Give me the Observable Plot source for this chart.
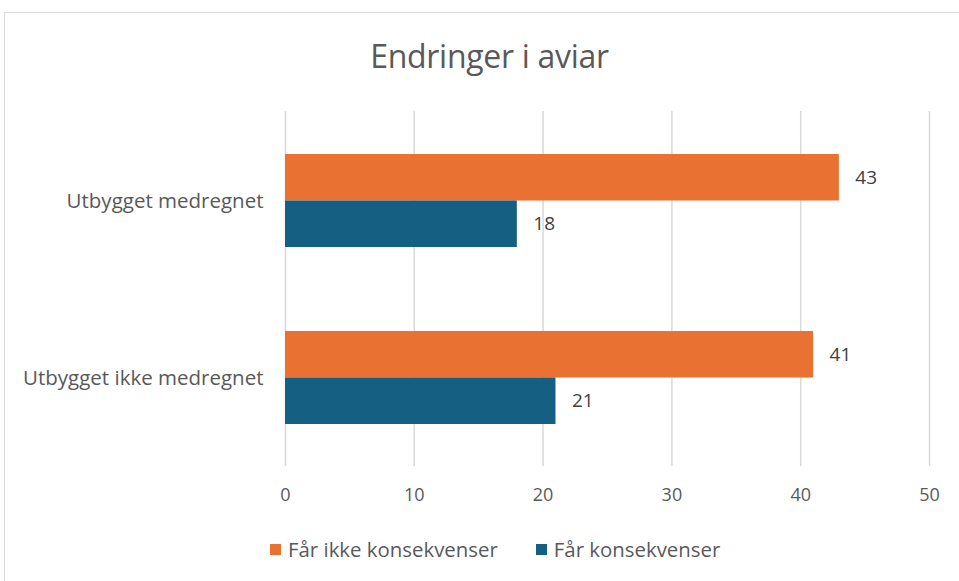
<!DOCTYPE html>
<html><head><meta charset="utf-8">
<script src="https://cdn.jsdelivr.net/npm/d3@7"></script>
<script src="https://cdn.jsdelivr.net/npm/@observablehq/plot@0.6"></script>
<style>
html,body{margin:0;padding:0;background:#fff;overflow:hidden;}
#frame{position:absolute;left:4px;top:12px;width:980px;height:600px;border:1px solid #d9d9d9;box-sizing:border-box;}
#title{position:absolute;left:10px;top:34px;width:959px;text-align:center;font-family:"Open Sans",sans-serif;font-size:32px;color:#595959;letter-spacing:-0.3px}
#chart{position:absolute;left:0;top:0;}
#legend{position:absolute;top:535px;left:270px;display:flex;gap:38px;font-family:"Open Sans",sans-serif;font-size:20.4px;color:#595959;}
.item{display:flex;align-items:center;gap:7px}
.sw{width:11px;height:11px;display:inline-block}
</style></head>
<body>
<div id="frame"></div>
<div id="title">Endringer i aviar</div>
<div id="chart"></div>
<div id="legend"></div>
<script>
const categories = ["Utbygget medregnet", "Utbygget ikke medregnet"];
const seriesNames = ["Får ikke konsekvenser", "Får konsekvenser"];
const seriesColors = ["#E97132", "#156082"];
const ikkeKonsekvenser = [43, 41];
const konsekvenser = [18, 21];
const xTicks = [0, 10, 20, 30, 40, 50];

const dataA = categories.map((c, i) => ({category: c, value: ikkeKonsekvenser[i]}));
const dataB = categories.map((c, i) => ({category: c, value: konsekvenser[i]}));

const half = 46.5;
const plot = Plot.plot({
  width: 959,
  height: 510,
  marginTop: 111,
  marginBottom: 44,
  marginLeft: 285,
  marginRight: 30,
  style: {fontFamily: "'Open Sans', sans-serif", fontSize: "18px", color: "#595959", background: "transparent"},
  x: {domain: [0, 50], ticks: xTicks, tickSize: 0, tickPadding: 22, label: null},
  y: {domain: categories, paddingInner: 0.476, paddingOuter: 0.238, tickSize: 0, tickPadding: 22, label: null},
  marks: [
    Plot.gridX(xTicks, {stroke: "#d9d9d9", strokeOpacity: 1, strokeWidth: 1.5}),
    Plot.axisY({tickSize: 0, tickPadding: 22, fontSize: 20.5, label: null}),
    Plot.barX(dataA, {x: "value", y: "category", fill: seriesColors[0], insetBottom: half}),
    Plot.barX(dataB, {x: "value", y: "category", fill: seriesColors[1], insetTop: half}),
    Plot.text(dataA, {x: "value", y: "category", text: d => String(d.value), dy: -half/2, dx: 16, textAnchor: "start", fill: "#404040", fontSize: 19}),
    Plot.text(dataB, {x: "value", y: "category", text: d => String(d.value), dy: half/2, dx: 16, textAnchor: "start", fill: "#404040", fontSize: 19})
  ]
});
document.getElementById("chart").appendChild(plot);

const legend = document.getElementById("legend");
seriesNames.forEach((n, i) => {
  const it = document.createElement("div");
  it.className = "item";
  it.innerHTML = `<span class="sw" style="background:${seriesColors[i]}"></span><span>${n}</span>`;
  legend.appendChild(it);
});
</script>
</body></html>
